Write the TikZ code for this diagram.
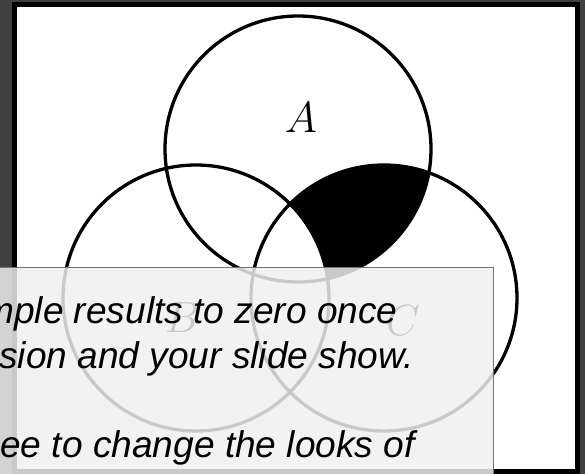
\documentclass[tikz,border=0pt]{standalone}
\usepackage{amsmath,amssymb}
\usepackage{xcolor}
\usepackage{fontspec}
\newfontfamily\notefont{Liberation Sans}
\usepackage{tikz}
\usetikzlibrary{positioning}

\tikzset{
    venn/.style={line width=0.66mm},
    setlabel/.style={inner sep=0pt, font=\fontsize{26.7}{30}\selectfont},
    noteline/.style={anchor=base west, inner sep=0pt, font=\notefont\itshape\fontsize{21.1}{25}\selectfont},
}

\begin{document}
\begin{tikzpicture}[x=0.2mm, y=-0.2mm]
    \useasboundingbox (0,0) rectangle (585,474);
    \clip (0,0) rectangle (585,474);
    \fill[black!75] (0,0) rectangle (585,474);
    \draw[line width=1mm, fill=white] (14.7,4.2) rectangle (577.5,471.5);
    \coordinate (cA) at (298,149);
    \coordinate (cB) at (196,298);
    \coordinate (cC) at (384,298);
    \begin{scope}
        \clip (cA) circle (133);
        \clip (cC) circle (133);
        \fill[even odd rule] (0,0) rectangle (585,474) (cB) circle (133);
    \end{scope}
    \draw[venn] (cA) circle (133);
    \draw[venn] (cB) circle (133);
    \draw[venn] (cC) circle (133);
    \node[setlabel] (labA) at (301,118) {$A$};
    \node[setlabel] (labB) at (182,318) {$B$};
    \node[setlabel] (labC) at (403,321) {$C$};
    \draw[draw=black!55, line width=0.2mm, fill=black!6, fill opacity=0.84] (-10,267.3) rectangle (493.5,490);
    \node[noteline] (note1) at (-17,323) {mple results to zero once};
    \node[noteline] (note2) at (-1,368) {sion and your slide show.};
    \node[noteline] (note3) at (0,457) {ee to change the looks of};
\end{tikzpicture}
\end{document}
